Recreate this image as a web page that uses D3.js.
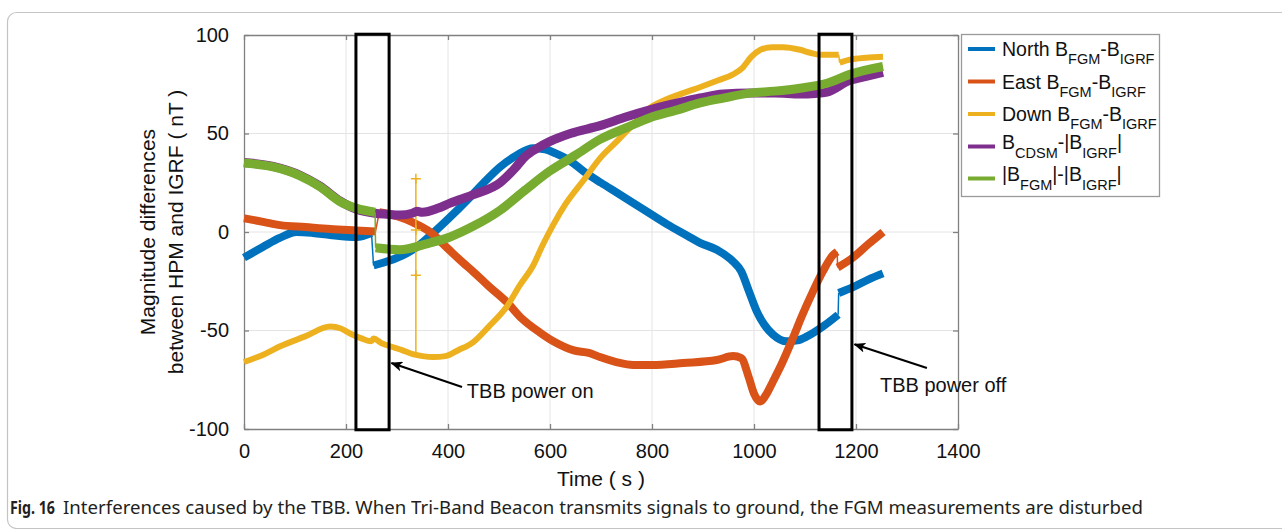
<!DOCTYPE html>
<html>
<head>
<meta charset="utf-8">
<script src="https://cdn.jsdelivr.net/npm/d3@7"></script>
<style>
  body { margin: 0; background: #fff; }
  svg { display: block; }
</style>
</head>
<body>
<div id="chart"></div>
<script>
// ---- data (time in s, value in nT) ----
// each series is a list of segments, the jumps between segments are the TBB switching
var northSegs = [
  [[0,-13],[37,-7.6],[70,-3],[103,0],[135,-0.5],[169,-1.5],[221,-2.5],[250,-0.5]],
  [[254,-17],[286,-14.5],[310,-12],[339,-7.6],[371,-0.5],[404,7.5],[437,16],[470,25],[502,33],[535,39],[567,42.5],
   [590,42],[610,40],[640,36],[665,31],[700,25],[731,20],[780,12],[829,4],[870,-2],[894,-5.5],[927,-9],[959,-15],
   [975,-20],[990,-30],[1005,-40],[1020,-47],[1037,-52],[1064,-55.5],[1085,-55],[1104,-53],[1135,-48],[1165,-42]],
  [[1166,-31],[1194,-28],[1225,-24],[1253,-21]]
];
var eastSegs = [
  [[0,7],[40,5],[71,3.5],[120,2.5],[169,1.5],[220,0.8],[258,0.3]],
  [[265,10],[300,8],[330,5],[365,0],[400,-8.5],[429,-15.5],[449,-20],[480,-27.5],[515,-35.5],[545,-44],[580,-51],
   [610,-56],[645,-60],[678,-61.5],[698,-63.5],[730,-66],[763,-67.5],[800,-67.5],[861,-66.5],[927,-65],[959,-63],
   [975,-64],[990,-74],[1000,-82],[1012,-86],[1025,-82],[1037,-76],[1056,-66],[1076,-54],[1095,-42],[1115,-30.5],
   [1135,-20],[1155,-11.7],[1163,-10]],
  [[1164,-18],[1194,-13],[1225,-6],[1253,0]]
];
var downSegs = [
  [[0,-66],[40,-62],[71,-58],[120,-53],[169,-48],[190,-49],[208,-51.5],[230,-54],[250,-55.5],[254,-54],[270,-56.5],
   [286,-58],[310,-60],[331,-62],[350,-63],[371,-63.5],[395,-63],[420,-60],[449,-56],[480,-48],[515,-38],[541,-27],
   [567,-17],[585,-7],[606,3.5],[630,14],[665,26],[700,38],[731,46],[765,55],[796,63],[830,67.5],[861,70.5],
   [894,73.5],[930,77],[959,80],[978,83.5],[995,89],[1012,92.4],[1035,93.8],[1057,93.8],[1090,92.5],[1110,91],
   [1129,90],[1166,90]],
  [[1168,86],[1188,87.5],[1220,88.5],[1253,89]]
];
var cdsmSegs = [
  [[0,35.3],[57,33.3],[110,28.8],[149,23.3],[188,15.8],[221,11.5],[257,9.5],[280,9],[306,8.6],[330,9.5],[339,10.5],
   [350,10],[380,12],[404,14.7],[450,19],[502,25],[530,32],[550,38],[575,42.5],[600,46],[640,50],[698,54],
   [750,58.5],[796,62],[850,65.5],[894,68],[940,70],[992,70.5],[1040,70.5],[1090,70],[1120,70.3],[1143,71],
   [1188,77],[1220,79],[1253,81]]
];
var fgmSegs = [
  [[0,35],[57,33],[110,28.5],[149,23],[188,15.5],[221,12],[257,10]],
  [[258,-8],[306,-9],[358,-6],[404,-2.5],[450,3],[502,11],[550,21],[600,31],[650,39],[698,47],[750,53],
   [796,58],[850,62],[894,65.5],[940,68],[992,70.5],[1040,71.5],[1090,73],[1143,75.5],[1188,80],[1253,84]]
];
// the short spike of the Down component when the beacon switches on
var downSpike = [[337,-63],[337,27]];
var downSpikeMarks = [27, 1, -22];

var seriesNames = ["North", "East", "Down", "CDSM", "FGM"];
var seriesColors = ["#0072BD", "#D95319", "#EDB120", "#7E2F8E", "#77AC30"];
var seriesWidths = [8, 8, 6, 9, 9];
var legendLabels = [
  [["North B",0],["FGM",1],["-B",0],["IGRF",1]],
  [["East B",0],["FGM",1],["-B",0],["IGRF",1]],
  [["Down B",0],["FGM",1],["-B",0],["IGRF",1]],
  [["B",0],["CDSM",1],["-|B",0],["IGRF",1],["|",0]],
  [["|B",0],["FGM",1],["|-|B",0],["IGRF",1],["|",0]]
];

var xTicks = [0, 200, 400, 600, 800, 1000, 1200, 1400];
var yTicks = [-100, -50, 0, 50, 100];

// TBB boxes (time range) and the two notes
var tbbBoxes = [[219.5, 284.5], [1127.5, 1192]];
var notes = [
  {text: "TBB power on",  from: [427.5, -78.7], to: [289, -66.5], at: [437, -84.3]},
  {text: "TBB power off", from: [1339, -69],    to: [1197, -57],  at: [1247, -81.2]}
];

var captionBold = "Fig. 16";
var captionText = "Interferences caused by the TBB. When Tri-Band Beacon transmits signals to ground, the FGM measurements are disturbed";

// ---- layout ----
var width = 1282, height = 529;
var margin = {top: 35, right: 324, bottom: 100, left: 244};

var svg = d3.select("#chart")
  .append("svg")
    .attr("width", width)
    .attr("height", height)
    .style("font-family", "'Liberation Sans', Arial, sans-serif");

// outer frame of the figure panel
svg.append("rect")
  .attr("x", 7.5).attr("y", 12.5)
  .attr("width", 1300).attr("height", 516)
  .attr("rx", 9)
  .attr("fill", "none")
  .attr("stroke", "#c4c4c4")
  .attr("stroke-width", 1.2);

var x = d3.scaleLinear()
  .domain([0, 1400])
  .range([margin.left, width - margin.right]);
var y = d3.scaleLinear()
  .domain([-100, 100])
  .range([height - margin.bottom, margin.top]);

// grid
svg.append("g")
  .selectAll("line")
  .data(xTicks.slice(1, -1))
  .enter().append("line")
    .attr("x1", function(d){ return x(d) }).attr("x2", function(d){ return x(d) })
    .attr("y1", y(-100)).attr("y2", y(100))
    .attr("stroke", "#e4e4e4");
svg.append("g")
  .selectAll("line")
  .data(yTicks.slice(1, -1))
  .enter().append("line")
    .attr("x1", x(0)).attr("x2", x(1400))
    .attr("y1", function(d){ return y(d) }).attr("y2", function(d){ return y(d) })
    .attr("stroke", "#e4e4e4");

// axes, ticks pointing inside like matlab
var plain = function(d){ return String(d) };
function styleAxis(g) {
  g.select(".domain").attr("stroke", "#808080").attr("stroke-width", 1.3);
  g.selectAll(".tick line").attr("stroke", "#808080").attr("stroke-width", 1.3);
  g.selectAll(".tick text").attr("fill", "#111").style("font-size", "20px");
}
svg.append("g")
  .attr("transform", "translate(0," + y(-100) + ")")
  .call(d3.axisBottom(x).tickValues(xTicks).tickFormat(plain).tickSizeInner(-5).tickSizeOuter(0).tickPadding(15))
  .call(styleAxis);
svg.append("g")
  .attr("transform", "translate(" + x(0) + ",0)")
  .call(d3.axisLeft(y).tickValues(yTicks).tickFormat(plain).tickSizeInner(-5).tickSizeOuter(0).tickPadding(15))
  .call(styleAxis);
svg.append("g")
  .attr("transform", "translate(0," + y(100) + ")")
  .call(d3.axisTop(x).tickValues(xTicks).tickSizeInner(-5).tickSizeOuter(0).tickFormat(""))
  .call(styleAxis);
svg.append("g")
  .attr("transform", "translate(" + x(1400) + ",0)")
  .call(d3.axisRight(y).tickValues(yTicks).tickSizeInner(-5).tickSizeOuter(0).tickFormat(""))
  .call(styleAxis);

// lines
var line = d3.line()
  .x(function(d){ return x(d[0]) })
  .y(function(d){ return y(d[1]) })
  .curve(d3.curveMonotoneX);

var allSeries = [northSegs, eastSegs, downSegs, cdsmSegs, fgmSegs];
allSeries.forEach(function(segs, i) {
  var g = svg.append("g").attr("class", "series-" + seriesNames[i]);
  // thin connectors at the jumps
  for (var k = 0; k < segs.length - 1; k++) {
    var a = segs[k][segs[k].length - 1], b = segs[k + 1][0];
    g.append("line")
      .attr("x1", x(a[0])).attr("y1", y(a[1]))
      .attr("x2", x(b[0])).attr("y2", y(b[1]))
      .attr("stroke", seriesColors[i]).attr("stroke-width", 1.5);
  }
  g.selectAll("path")
    .data(segs)
    .enter().append("path")
      .attr("d", line)
      .attr("fill", "none")
      .attr("stroke", seriesColors[i])
      .attr("stroke-width", seriesWidths[i])
      .attr("stroke-linejoin", "round");

  if (seriesNames[i] == "Down") {
    g.append("path")
      .attr("d", d3.line().x(function(d){ return x(d[0]) }).y(function(d){ return y(d[1]) })(downSpike))
      .attr("stroke", seriesColors[i]).attr("stroke-width", 1.5).attr("fill", "none");
    g.selectAll(".mark")
      .data(downSpikeMarks)
      .enter().append("path")
        .attr("class", "mark")
        .attr("d", function(d){
          var cx = x(downSpike[0][0]), cy = y(d);
          return "M" + (cx - 5) + "," + cy + "H" + (cx + 5) + "M" + cx + "," + (cy - 5) + "V" + (cy + 5);
        })
        .attr("stroke", seriesColors[i]).attr("stroke-width", 1.5);
  }
});

// TBB boxes
svg.append("g")
  .selectAll("rect")
  .data(tbbBoxes)
  .enter().append("rect")
    .attr("x", function(d){ return x(d[0]) })
    .attr("y", y(100.4))
    .attr("width", function(d){ return x(d[1]) - x(d[0]) })
    .attr("height", y(-100.4) - y(100.4))
    .attr("fill", "none")
    .attr("stroke", "#000")
    .attr("stroke-width", 3);

// arrows + notes
svg.append("defs").append("marker")
  .attr("id", "head")
  .attr("viewBox", "0 0 12 10")
  .attr("refX", 11).attr("refY", 5)
  .attr("markerWidth", 12).attr("markerHeight", 10)
  .attr("markerUnits", "userSpaceOnUse")
  .attr("orient", "auto")
  .append("path")
    .attr("d", "M0,0 L12,5 L0,10 L3,5 Z")
    .attr("fill", "#000");

notes.forEach(function(n) {
  svg.append("line")
    .attr("x1", x(n.from[0])).attr("y1", y(n.from[1]))
    .attr("x2", x(n.to[0])).attr("y2", y(n.to[1]))
    .attr("stroke", "#000").attr("stroke-width", 2)
    .attr("marker-end", "url(#head)");
  svg.append("text")
    .attr("x", x(n.at[0])).attr("y", y(n.at[1]))
    .style("font-size", "20px")
    .attr("fill", "#111")
    .text(n.text);
});

// legend
var legend = svg.append("g");
legend.append("rect")
  .attr("x", 961.5).attr("y", 34.5)
  .attr("width", 198).attr("height", 162)
  .attr("fill", "#fff")
  .attr("stroke", "#9a9a9a")
  .attr("stroke-width", 1.3);

var legendY = [49, 81.5, 114, 146.5, 178.5];
legendLabels.forEach(function(parts, i) {
  legend.append("line")
    .attr("x1", 968).attr("x2", 995)
    .attr("y1", legendY[i]).attr("y2", legendY[i])
    .attr("stroke", seriesColors[i]).attr("stroke-width", 4);
  var base = i < 3 ? legendY[i] + 7 : legendY[i] + 2;
  var t = legend.append("text")
    .attr("x", 1002).attr("y", base)
    .attr("fill", "#111");
  var sub = false;
  parts.forEach(function(p) {
    var dy = 0;
    if (p[1] && !sub) dy = i < 3 ? 8 : 9;
    if (!p[1] && sub) dy = i < 3 ? -8 : -9;
    sub = p[1] == 1;
    t.append("tspan")
      .attr("dy", dy)
      .style("font-size", p[1] ? "14.5px" : "19.5px")
      .text(p[0]);
  });
});

// axis labels
svg.append("text")
  .attr("x", (x(0) + x(1400)) / 2)
  .attr("y", 486)
  .attr("text-anchor", "middle")
  .style("font-size", "21px")
  .attr("fill", "#111")
  .text("Time ( s )");

var ylab = ["Magnitude differences", "between HPM and IGRF ( nT )"];
svg.selectAll(".ylab")
  .data(ylab)
  .enter().append("text")
    .attr("class", "ylab")
    .attr("transform", function(d, i){ return "translate(" + (155 + i * 28) + "," + y(0) + ") rotate(-90)" })
    .attr("text-anchor", "middle")
    .style("font-size", "21px")
    .attr("fill", "#111")
    .text(function(d){ return d });

// caption
svg.append("text")
  .attr("x", 10).attr("y", 514)
  .style("font-family", "'Noto Sans', sans-serif")
  .style("font-size", "18.5px")
  .style("font-weight", "bold")
  .attr("fill", "#231f20")
  .attr("textLength", 45)
  .attr("lengthAdjust", "spacingAndGlyphs")
  .text(captionBold);
svg.append("text")
  .attr("x", 63).attr("y", 514)
  .style("font-family", "'Noto Sans', sans-serif")
  .style("font-size", "18.5px")
  .attr("fill", "#231f20")
  .attr("textLength", 1080)
  .attr("lengthAdjust", "spacingAndGlyphs")
  .text(captionText);
</script>
</body>
</html>
